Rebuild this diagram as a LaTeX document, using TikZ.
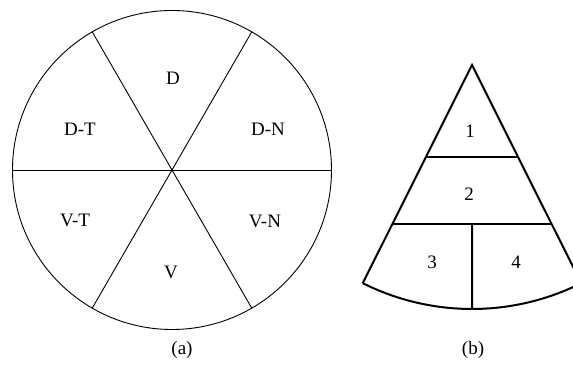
\documentclass[tikz,border=0pt]{standalone}
\usepackage{fontspec}
\setmainfont{Liberation Serif}
\usetikzlibrary{calc}

\begin{document}
\begin{tikzpicture}[x=1pt,y=1pt,
  thinline/.style={line width=0.9pt,black},
  thickline/.style={line width=2pt,black,line join=miter},
  lbl/.style={inner sep=0pt,font=\fontsize{19}{22}\selectfont}
]
  \useasboundingbox (0,0) rectangle (573,377);

  % (a) circle split in six
  \coordinate (c) at (172,207);
  \draw[thinline] (c) circle[radius=159.5];
  \foreach \ang/\nm in {0/e,60/ne,120/nw,180/w,240/sw,300/se}
    \coordinate (\nm) at ($(c)+(\ang:159.5)$);
  \draw[thinline] (w)--(e);
  \draw[thinline] (nw)--(se);
  \draw[thinline] (ne)--(sw);

  \node[lbl] (D)  at (173,299) {D};
  \node[lbl] (DT) at (80,248)  {D-T};
  \node[lbl] (DN) at (268,248) {D-N};
  \node[lbl] (VT) at (75,157)  {V-T};
  \node[lbl] (VN) at (265,156) {V-N};
  \node[lbl] (V)  at (171,105) {V};

  % (b) sector
  \coordinate (apex) at (472,312);
  \coordinate (L) at ($(apex)+(243.4:244)$);
  \coordinate (R) at ($(apex)+(296.6:244)$);
  \coordinate (B) at ($(apex)+(270:244)$);
  \coordinate (l1) at ($(apex)!0.422!(L)$);
  \coordinate (r1) at ($(apex)!0.422!(R)$);
  \coordinate (l2) at ($(apex)!0.730!(L)$);
  \coordinate (r2) at ($(apex)!0.730!(R)$);
  \coordinate (m2) at ($(l2)!0.5!(r2)$);
  \draw[thickline] (L)--(apex)--(R) arc[start angle=296.6,end angle=243.4,radius=244];
  \draw[thickline] (l1)--(r1);
  \draw[thickline] (l2)--(r2);
  \draw[thickline] (m2)--(B);

  \node[lbl] (s1) at (470,246) {1};
  \node[lbl] (s2) at (469,183) {2};
  \node[lbl] (s3) at (432,115) {3};
  \node[lbl] (s4) at (516,115) {4};

  \node[lbl] (capa) at (182,27) {(a)};
  \node[lbl] (capb) at (473,27) {(b)};
\end{tikzpicture}
\end{document}
